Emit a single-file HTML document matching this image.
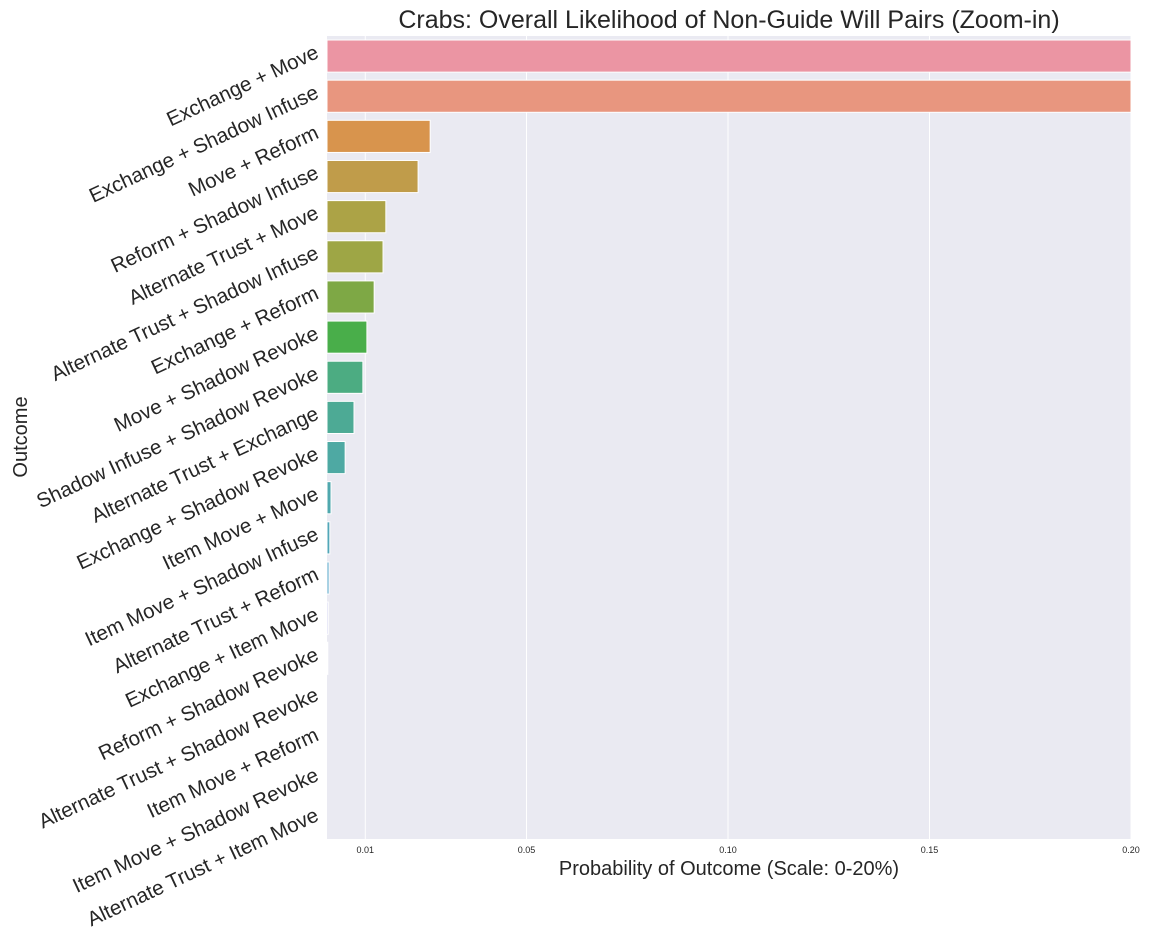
<!DOCTYPE html>
<html><head><meta charset="utf-8"><style>
body{margin:0;background:#fff;}
svg text{font-family:"Liberation Sans",Arial,sans-serif;fill:#262626;}
</style></head><body>
<svg id="chart" width="1152" height="936" xmlns="http://www.w3.org/2000/svg">
<rect x="327" y="36" width="804" height="803" fill="#eaeaf2"/>
<g id="grid"></g><g id="bars"></g><g id="ylabels"></g><g id="xticks"></g>
<text x="729" y="28" font-size="25" text-anchor="middle">Crabs: Overall Likelihood of Non-Guide Will Pairs (Zoom-in)</text>
<text x="729" y="875" font-size="20" text-anchor="middle">Probability of Outcome (Scale: 0-20%)</text>
<text x="27" y="437" font-size="20" text-anchor="middle" transform="rotate(-90 27 437)">Outcome</text>
</svg>
<script>
const categories=["Exchange + Move","Exchange + Shadow Infuse","Move + Reform","Reform + Shadow Infuse","Alternate Trust + Move","Alternate Trust + Shadow Infuse","Exchange + Reform","Move + Shadow Revoke","Shadow Infuse + Shadow Revoke","Alternate Trust + Exchange","Exchange + Shadow Revoke","Item Move + Move","Item Move + Shadow Infuse","Alternate Trust + Reform","Exchange + Item Move","Reform + Shadow Revoke","Alternate Trust + Shadow Revoke","Item Move + Reform","Item Move + Shadow Revoke","Alternate Trust + Item Move"];
const values=[0.32,0.30,0.0261,0.0231,0.0151,0.0144,0.0122,0.0104,0.0094,0.0072,0.0050,0.0015,0.0012,0.0010,0.0008,0.0007,0.0003,0.0002,0.0001,0.0001];
const colors=["#eb95a3","#e8967f","#d8944d","#c09c4a","#aca346","#9ea645","#7ea845","#49ae4a","#4cac82","#4daa95","#4ea9a3","#50a8ae","#52a7b8","#56a5c8","#9d9ae0","#bd93e0","#d68fd4","#e48fc0","#e48fc0","#ea92b0"];
const xTicks=[0.01,0.05,0.10,0.15,0.20];
const xTickLabels=["0.01","0.05","0.10","0.15","0.20"];
const X0=327,X1=1131,Y0=36,Y1=839,D0=0.0005,D1=0.2;
const ns="http://www.w3.org/2000/svg";
function x(v){return X0+(Math.min(Math.max(v,D0),D1)-D0)/(D1-D0)*(X1-X0);}
const band=(Y1-Y0)/categories.length;
function y(i){return Y0+i*band;}
function mk(t,a,p){const e=document.createElementNS(ns,t);for(const k in a)e.setAttribute(k,a[k]);document.getElementById(p).appendChild(e);return e;}
xTicks.forEach((t,i)=>{
  const g=mk('line',{x1:x(t),x2:x(t),y1:Y0,y2:Y1,stroke:'#fff','stroke-width':1},'grid');
  
  
  const l=mk('text',{x:x(t),y:853,'font-size':9,'text-anchor':'middle'},'xticks');
  l.textContent=xTickLabels[i];
  
  
});
categories.forEach((c,i)=>{
  const w=x(values[i])-X0;
  const b=mk('rect',{x:X0,y:y(i)+band*0.1,width:Math.max(w,0),height:band*0.8,fill:colors[i],stroke:'#fff','stroke-width':1},'bars');
  
  
  const cy=y(i)+band/2+1;
  const t=mk('text',{x:320,y:cy,'font-size':20.5,'text-anchor':'end',transform:`rotate(-25 320 ${cy})`},'ylabels');
  t.textContent=c;
  
  
});
</script>
</body></html>
